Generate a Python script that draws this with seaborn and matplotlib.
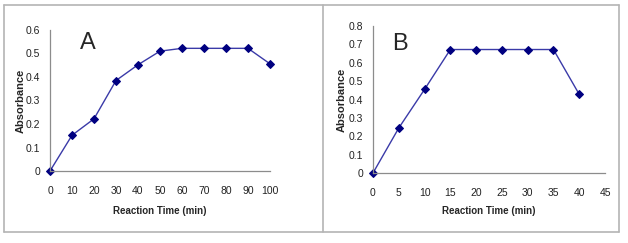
import matplotlib
matplotlib.use('Agg')
import matplotlib.pyplot as plt
import seaborn as sns
import pandas as pd
from matplotlib.lines import Line2D
from matplotlib.ticker import MultipleLocator

time_a = [0, 10, 20, 30, 40, 50, 60, 70, 80, 90, 100]
abs_a = [0.0, 0.152, 0.222, 0.385, 0.452, 0.51, 0.522, 0.522, 0.522, 0.522, 0.456]

time_b = [0, 5, 10, 15, 20, 25, 30, 35, 40]
abs_b = [0.0, 0.245, 0.455, 0.672, 0.672, 0.672, 0.672, 0.672, 0.428]

sns.set_style('white')
plt.rcParams['font.family'] = ['Liberation Sans', 'DejaVu Sans']

fig = plt.figure(figsize=(6.28, 2.43), dpi=100)

# outer frame with divider
frame = '#b4b4b4'
for xs, ys in [([4, 619], [5, 5]), ([4, 619], [232, 232]), ([4, 4], [5, 232]),
               ([619, 619], [5, 232]), ([323, 323], [5, 232])]:
    fig.add_artist(Line2D([x / 628 for x in xs], [1 - y / 243 for y in ys],
                          color=frame, lw=1.2))

panels = [
    (time_a, abs_a, [50 / 628, 72 / 243, 220 / 628, 141 / 243], (0, 100), 10, (0, 0.6),
     'A', (13.5, 0.545), (-0.132, -0.284)),
    (time_b, abs_b, [373 / 628, 70 / 243, 232 / 628, 147 / 243], (0, 45), 5, (0, 0.8),
     'B', (3.8, 0.70), (-0.134, -0.259)),
]

for t, a, pos, xl, xstep, yl, tag, tagpos, labpos in panels:
    ax = fig.add_axes(pos)
    df = pd.DataFrame({'Reaction Time (min)': t, 'Absorbance': a})
    sns.lineplot(data=df, x='Reaction Time (min)', y='Absorbance', ax=ax,
                 color='#3a3aa8', lw=1.0, marker='D', markersize=4.5,
                 markerfacecolor='#000080', markeredgecolor='#000080')
    ax.set_xlim(*xl)
    ax.set_ylim(*yl)
    ax.xaxis.set_major_locator(MultipleLocator(xstep))
    ax.xaxis.set_minor_locator(MultipleLocator(xstep / 2))
    ax.yaxis.set_major_locator(MultipleLocator(0.1))
    ax.set_yticklabels([f'{v:g}' for v in ax.get_yticks()])
    for s in ['top', 'right']:
        ax.spines[s].set_visible(False)
    for s in ['left', 'bottom']:
        ax.spines[s].set_color('#8c8c8c')
        ax.spines[s].set_linewidth(0.9)
    ax.tick_params(axis='both', which='both', direction='out', color='#8c8c8c',
                   width=0.8, labelsize=7.5, labelcolor='#222222')
    ax.tick_params(axis='x', which='major', length=3, pad=8)
    ax.tick_params(axis='x', which='minor', length=3)
    ax.tick_params(axis='y', which='major', length=3, pad=4)
    ax.set_xlabel('Reaction Time (min)', fontsize=7, fontweight='bold')
    ax.set_ylabel('Absorbance', fontsize=8, fontweight='bold')
    ax.yaxis.set_label_coords(labpos[0], 0.5)
    ax.xaxis.set_label_coords(0.5, labpos[1])
    ax.xaxis.label.set_va('center')
    ax.yaxis.label.set_va('center')
    ax.text(tagpos[0], tagpos[1], tag, fontsize=17, va='center', ha='left')
    for ln in ax.lines:
        ln.set_clip_on(False)

fig.savefig('out.png', dpi=100)
